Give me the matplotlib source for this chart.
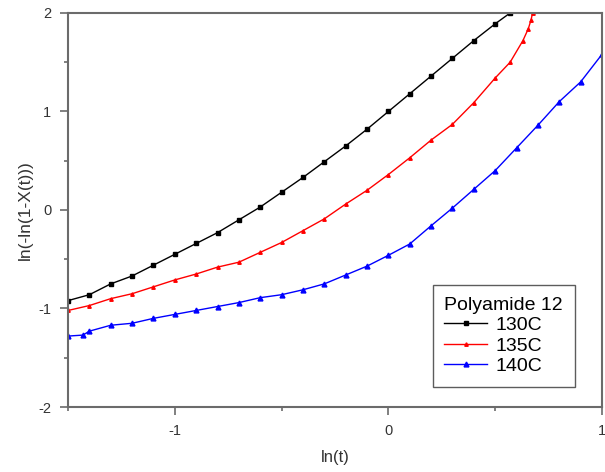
import matplotlib
matplotlib.use("Agg")
import matplotlib.pyplot as plt
from matplotlib.ticker import MultipleLocator

plt.rcParams['font.family'] = ['Liberation Sans', 'DejaVu Sans']
plt.rcParams['axes.unicode_minus'] = False

x_130 = [-1.5, -1.4, -1.3, -1.2, -1.1, -1.0, -0.9, -0.8, -0.7, -0.6, -0.5, -0.4,
         -0.3, -0.2, -0.1, 0.0, 0.1, 0.2, 0.3, 0.4, 0.5, 0.57]
y_130 = [-0.92, -0.86, -0.75, -0.67, -0.56, -0.45, -0.34, -0.23, -0.10, 0.03, 0.18, 0.33,
         0.49, 0.65, 0.82, 1.00, 1.18, 1.36, 1.54, 1.72, 1.89, 2.0]

x_135 = [-1.5, -1.4, -1.3, -1.2, -1.1, -1.0, -0.9, -0.8, -0.7, -0.6, -0.5, -0.4,
         -0.3, -0.2, -0.1, 0.0, 0.1, 0.2, 0.3, 0.4, 0.5, 0.57, 0.63, 0.655, 0.668, 0.675]
y_135 = [-1.02, -0.97, -0.90, -0.85, -0.78, -0.71, -0.65, -0.58, -0.53, -0.43, -0.33, -0.21,
         -0.09, 0.06, 0.20, 0.36, 0.53, 0.71, 0.87, 1.09, 1.34, 1.50, 1.72, 1.84, 1.93, 2.0]

x_140 = [-1.5, -1.43, -1.4, -1.3, -1.2, -1.1, -1.0, -0.9, -0.8, -0.7, -0.6, -0.5, -0.4,
         -0.3, -0.2, -0.1, 0.0, 0.1, 0.2, 0.3, 0.4, 0.5, 0.6, 0.7, 0.8, 0.9, 1.0]
y_140 = [-1.28, -1.27, -1.23, -1.17, -1.15, -1.10, -1.06, -1.02, -0.98, -0.94, -0.89, -0.86, -0.81,
         -0.75, -0.66, -0.57, -0.46, -0.345, -0.16, 0.02, 0.21, 0.40, 0.63, 0.86, 1.10, 1.30, 1.58]

labels = ["130C", "135C", "140C"]
legend_title = "Polyamide 12"

fig = plt.figure(figsize=(6.05, 4.72), dpi=100)
ax = fig.add_axes([0.1124, 0.1377, 0.8826, 0.8348])

ax.plot(x_130, y_130, color='black', lw=1, marker='s', ms=2.5, label=labels[0])
ax.plot(x_135, y_135, color='red', lw=1, marker='^', ms=2.5, label=labels[1])
ax.plot(x_140, y_140, color='blue', lw=1, marker='^', ms=3.5, label=labels[2])

ax.set_xlim(-1.5, 1)
ax.set_ylim(-2, 2)
ax.xaxis.set_major_locator(MultipleLocator(1))
ax.xaxis.set_minor_locator(MultipleLocator(0.5))
ax.yaxis.set_major_locator(MultipleLocator(1))
ax.yaxis.set_minor_locator(MultipleLocator(0.5))

spine_color = '#6b6b6b'
for s in ax.spines.values():
    s.set_color(spine_color)
    s.set_linewidth(1.5)
ax.tick_params(which='both', direction='out', color=spine_color, width=1.2,
               labelcolor='#333333', labelsize=10.5, top=False, right=False)
ax.tick_params(which='major', length=6, pad=6)
ax.tick_params(which='minor', length=3)

ax.set_xlabel("ln(t)", fontsize=12, color='#333333', labelpad=9)
ax.set_ylabel("ln(-ln(1-X(t)))", fontsize=12.5, color='#333333', labelpad=4)

leg = ax.legend(title=legend_title, loc='lower right', bbox_to_anchor=(0.949, 0.051),
                borderaxespad=0, fontsize=14, title_fontsize=14, frameon=True,
                fancybox=False, handlelength=2.2, handletextpad=0.4,
                labelspacing=0.15, borderpad=0.6)
leg.get_frame().set_edgecolor('#333333')
leg.get_frame().set_linewidth(1.0)
leg._legend_box.align = "left"

fig.savefig("out.png", dpi=100)
